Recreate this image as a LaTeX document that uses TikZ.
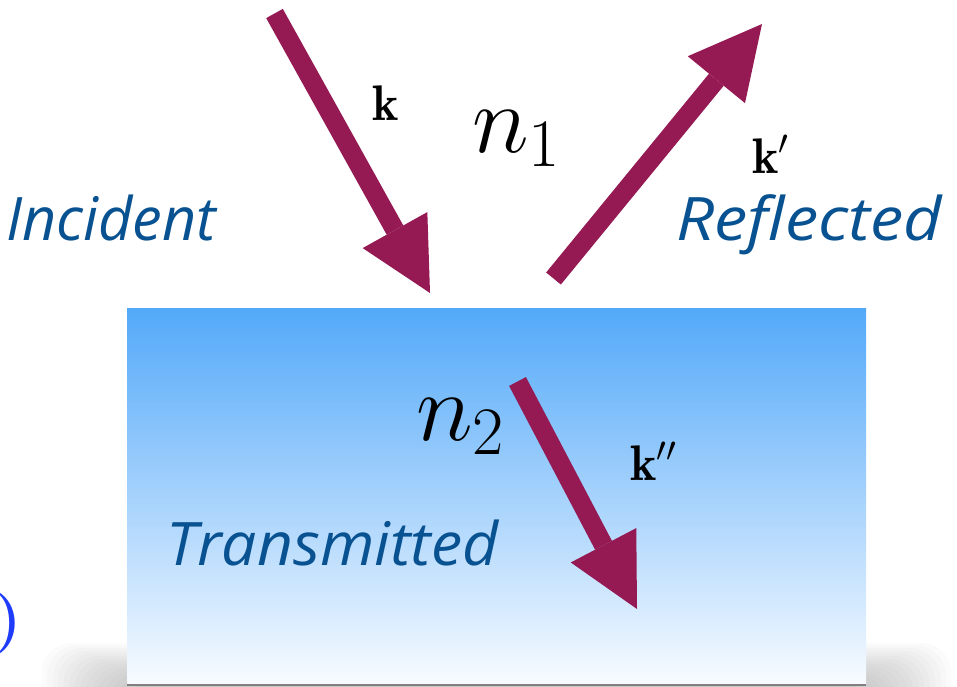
\RequirePackage{fix-cm}
\documentclass[tikz,border=0pt]{standalone}
\usepackage{fontspec}
\usetikzlibrary{arrows.meta,calc}
\newfontfamily\labfont{Open Sans}
\definecolor{arrowcol}{RGB}{149,25,82}
\definecolor{labblue}{RGB}{9,82,145}
\definecolor{boxtop}{RGB}{83,169,249}
\definecolor{boxbot}{RGB}{247,251,255}
\definecolor{parenblue}{RGB}{30,60,250}
\tikzset{
  kvec/.style={arrowcol, line width=19pt,
    -{Triangle[length=72pt,width=74pt,line width=0pt]}},
  medlab/.style={labblue, inner sep=0pt, anchor=base west,
    font=\labfont\itshape\fontsize{60}{70}\selectfont},
  vlab/.style={inner sep=0pt, anchor=base west, font=\fontsize{50}{60}\selectfont},
  nlab/.style={inner sep=0pt, anchor=base west, font=\fontsize{97}{100}\selectfont},
}
\begin{document}
\begin{tikzpicture}[x=1pt,y=-1pt]
\useasboundingbox (0,0) rectangle (957,686);
% shadow
\foreach \i in {0,...,15}
  \fill[black,opacity=0.015,rounded corners=30pt] (124-5.5*\i,682-2.6*\i) rectangle (869+5.5*\i,720);
\fill[black!50] (127,681) rectangle (866,686);
% medium box
\shade[top color=boxtop,bottom color=boxbot] (127,308) rectangle (866,683);
% arrows
\coordinate (inTail) at (274.5,13.5);
\coordinate (inTip) at (430,293);
\coordinate (reTail) at (553.5,278.5);
\coordinate (reTip) at (762,24);
\coordinate (trTail) at (517.5,381.5);
\coordinate (trTip) at (637,609);
\draw[kvec] (inTail) -- (inTip);
\draw[kvec] (reTail) -- (reTip);
\draw[kvec] (trTail) -- (trTip);
% labels
\node[medlab] (inc) at (6,240) {\scalebox{0.99}[1]{Incident}};
\node[medlab] (ref) at (676,240) {\scalebox{1.11}[1]{Reflected}};
\node[medlab] (tra) at (166,565) {\scalebox{1.04}[1]{Transmitted}};
\node[vlab] (k1) at (372,120) {$\mathbf{k}$};
\node[vlab] (k2) at (752,173) {$\mathbf{k}'$};
\node[vlab] (k3) at (630,480) {$\mathbf{k}''$};
\node[nlab] (n1) at (472,152) {$n_1$};
\node[nlab] (n2) at (416,440) {$n_2$};
\node[parenblue, inner sep=0pt, anchor=base east, font=\bfseries\fontsize{60}{70}\selectfont] (par) at (22,638) {)};
\end{tikzpicture}
\end{document}
